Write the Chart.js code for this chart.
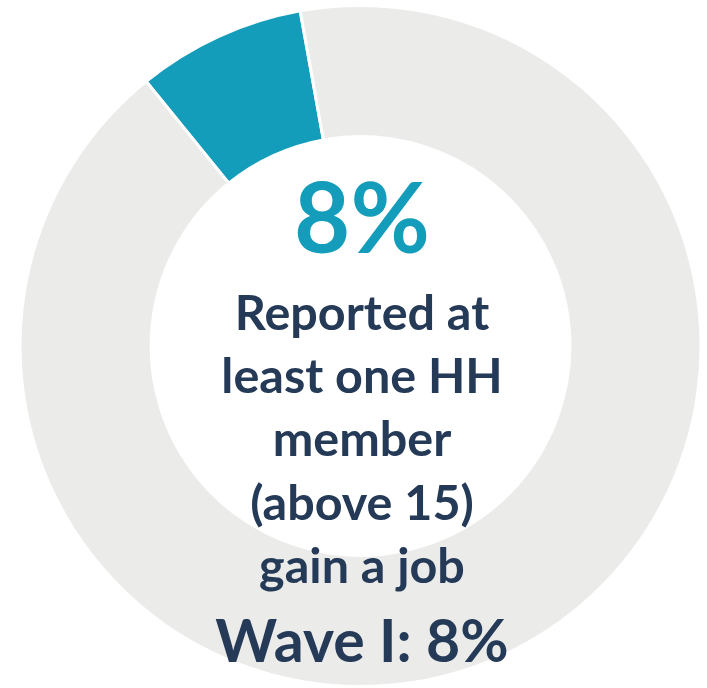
<!DOCTYPE html>
<html>
<head>
<meta charset="utf-8">
<script src="https://cdn.jsdelivr.net/npm/chart.js@4/dist/chart.umd.min.js"></script>
<style>
  html, body { margin: 0; padding: 0; background: #ffffff; }
  #wrap { width: 707px; height: 688px; position: relative; }
</style>
</head>
<body>
<div id="wrap"><canvas id="donut"></canvas></div>
<script>
// chart values
const labels = ['Gained a job', 'Did not'];
const values = [8, 92];
const colors = ['#149dba', '#ebebea'];

// centre text
const headline = '8%';
const captionLines = ['Reported at', 'least one HH', 'member', '(above 15)', 'gain a job'];
const footer = 'Wave I: 8%';

const centerText = {
    id: 'centerText',
    afterDraw(chart) {
        const ctx = chart.ctx;
        const cx = 362;
        ctx.save();
        ctx.textAlign = 'center';
        ctx.textBaseline = 'alphabetic';

        ctx.fillStyle = '#149dba';
        ctx.font = 'bold 97px Lato';
        ctx.fillText(headline, cx, 253);

        ctx.fillStyle = '#253a57';
        ctx.font = 'bold 48.5px Lato';
        captionLines.forEach((line, i) => {
            ctx.fillText(line, cx, 330 + i * 63.2);
        });

        ctx.font = 'bold 59px Lato';
        ctx.fillText(footer, cx, 662);
        ctx.restore();
    }
};

new Chart(document.getElementById('donut'), {
    type: 'doughnut',
    data: {
        labels: labels,
        datasets: [{
            data: values,
            backgroundColor: colors,
            borderColor: '#ffffff',
            borderWidth: 3
        }]
    },
    options: {
        responsive: true,
        maintainAspectRatio: false,
        animation: false,
        rotation: -39,
        cutout: '61.5%',
        layout: { padding: { left: 17, right: 3, top: 4, bottom: 0 } },
        plugins: {
            legend: { display: false },
            tooltip: { enabled: false }
        }
    },
    plugins: [centerText]
});
</script>
</body>
</html>
